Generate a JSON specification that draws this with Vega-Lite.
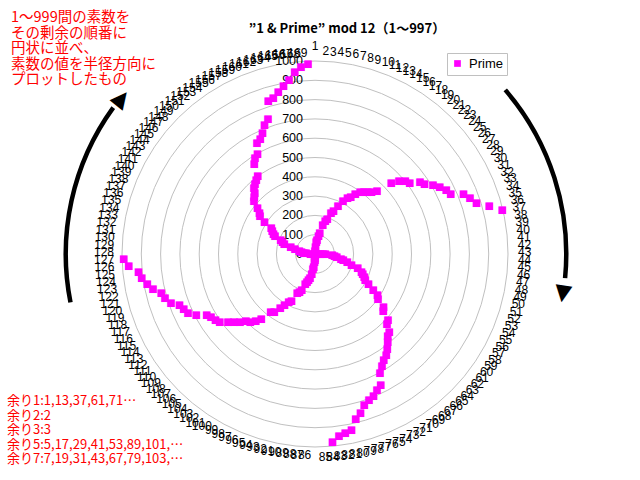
{
  "$schema": "https://vega.github.io/schema/vega-lite/v6.json",
  "width": 630,
  "height": 508,
  "autosize": "none",
  "padding": 0,
  "background": "white",
  "config": {"view": {"stroke": null}, "font": "Liberation Sans"},
  "title": {"text": "”1 & Prime” mod 12（1～997）", "frame": "group", "anchor": "middle", "orient": "top", "offset": -46, "dx": 32, "baseline": "alphabetic", "fontSize": 13, "fontWeight": "bold", "font": "Noto Sans CJK JP", "color": "#000000"},
  "datasets": {
    "primes": [
      {"i":1,"p":1},{"i":2,"p":13},{"i":3,"p":37},{"i":4,"p":61},{"i":5,"p":73},{"i":6,"p":97},{"i":7,"p":109},{"i":8,"p":157},{"i":9,"p":181},{"i":10,"p":193},
      {"i":11,"p":229},{"i":12,"p":241},{"i":13,"p":277},{"i":14,"p":313},{"i":15,"p":337},{"i":16,"p":349},{"i":17,"p":373},{"i":18,"p":397},{"i":19,"p":409},{"i":20,"p":421},
      {"i":21,"p":433},{"i":22,"p":457},{"i":23,"p":541},{"i":24,"p":577},{"i":25,"p":601},{"i":26,"p":613},{"i":27,"p":661},{"i":28,"p":673},{"i":29,"p":709},{"i":30,"p":733},
      {"i":31,"p":757},{"i":32,"p":769},{"i":33,"p":829},{"i":34,"p":853},{"i":35,"p":877},{"i":36,"p":937},{"i":37,"p":997},
      {"i":38,"p":2},{"i":39,"p":3},
      {"i":40,"p":5},{"i":41,"p":17},{"i":42,"p":29},{"i":43,"p":41},{"i":44,"p":53},{"i":45,"p":89},{"i":46,"p":101},{"i":47,"p":113},{"i":48,"p":137},{"i":49,"p":149},
      {"i":50,"p":173},{"i":51,"p":197},{"i":52,"p":233},{"i":53,"p":257},{"i":54,"p":269},{"i":55,"p":281},{"i":56,"p":293},{"i":57,"p":317},{"i":58,"p":353},{"i":59,"p":389},
      {"i":60,"p":401},{"i":61,"p":449},{"i":62,"p":461},{"i":63,"p":509},{"i":64,"p":521},{"i":65,"p":557},{"i":66,"p":569},{"i":67,"p":593},{"i":68,"p":617},{"i":69,"p":641},
      {"i":70,"p":653},{"i":71,"p":677},{"i":72,"p":701},{"i":73,"p":761},{"i":74,"p":773},{"i":75,"p":797},{"i":76,"p":809},{"i":77,"p":821},{"i":78,"p":857},{"i":79,"p":881},
      {"i":80,"p":929},{"i":81,"p":941},{"i":82,"p":953},{"i":83,"p":977},
      {"i":84,"p":7},{"i":85,"p":19},{"i":86,"p":31},{"i":87,"p":43},{"i":88,"p":67},{"i":89,"p":79},{"i":90,"p":103},{"i":91,"p":127},{"i":92,"p":139},{"i":93,"p":151},
      {"i":94,"p":163},{"i":95,"p":199},{"i":96,"p":211},{"i":97,"p":223},{"i":98,"p":271},{"i":99,"p":283},{"i":100,"p":307},{"i":101,"p":331},{"i":102,"p":367},{"i":103,"p":379},
      {"i":104,"p":439},{"i":105,"p":463},{"i":106,"p":487},{"i":107,"p":499},{"i":108,"p":523},{"i":109,"p":547},{"i":110,"p":571},{"i":111,"p":607},{"i":112,"p":619},{"i":113,"p":631},
      {"i":114,"p":643},{"i":115,"p":691},{"i":116,"p":727},{"i":117,"p":739},{"i":118,"p":751},{"i":119,"p":787},{"i":120,"p":811},{"i":121,"p":823},{"i":122,"p":859},{"i":123,"p":883},
      {"i":124,"p":907},{"i":125,"p":919},{"i":126,"p":967},{"i":127,"p":991},
      {"i":128,"p":11},{"i":129,"p":23},{"i":130,"p":47},{"i":131,"p":59},{"i":132,"p":71},{"i":133,"p":83},{"i":134,"p":107},{"i":135,"p":131},{"i":136,"p":167},{"i":137,"p":179},
      {"i":138,"p":191},{"i":139,"p":227},{"i":140,"p":239},{"i":141,"p":251},{"i":142,"p":263},{"i":143,"p":311},{"i":144,"p":347},{"i":145,"p":359},{"i":146,"p":383},{"i":147,"p":419},
      {"i":148,"p":431},{"i":149,"p":443},{"i":150,"p":467},{"i":151,"p":479},{"i":152,"p":491},{"i":153,"p":503},{"i":154,"p":563},{"i":155,"p":587},{"i":156,"p":599},{"i":157,"p":647},
      {"i":158,"p":659},{"i":159,"p":683},{"i":160,"p":719},{"i":161,"p":743},{"i":162,"p":827},{"i":163,"p":839},{"i":164,"p":863},{"i":165,"p":887},{"i":166,"p":911},{"i":167,"p":947},
      {"i":168,"p":971},{"i":169,"p":983}
    ],
    "ticks": [{"v":0},{"v":100},{"v":200},{"v":300},{"v":400},{"v":500},{"v":600},{"v":700},{"v":800},{"v":900},{"v":1000}]
  },
  "layer": [
    {
      "data": {"name": "ticks"},
      "transform": [{"filter": "datum.v > 0"}],
      "mark": {"type": "arc", "theta": 0, "theta2": 6.2832, "filled": false, "stroke": "#c0c0c0", "strokeWidth": 1},
      "encoding": {
        "radius": {"field": "v", "type": "quantitative", "stack": false, "scale": {"type": "linear", "domain": [0, 1000], "range": [0, 193], "zero": true}}
      }
    },
    {
      "data": {"name": "ticks"},
      "mark": {"type": "text", "theta": 0, "align": "right", "baseline": "middle", "dx": -12, "fontSize": 12.5, "color": "#000000"},
      "encoding": {
        "radius": {"field": "v", "type": "quantitative", "stack": false, "scale": {"type": "linear", "domain": [0, 1000], "range": [0, 193], "zero": true}},
        "text": {"field": "v", "type": "quantitative", "format": "d"}
      }
    },
    {
      "data": {"name": "primes"},
      "transform": [{"filter": "datum.i == 1"}],
      "mark": {"type": "text", "radius": 204, "align": "center", "baseline": "alphabetic", "fontSize": 12, "color": "#000000"},
      "encoding": {
        "theta": {"field": "i", "type": "quantitative", "stack": false, "scale": {"type": "linear", "domain": [1, 170], "range": [0, 6.283185307], "zero": false}},
        "text": {"field": "i", "type": "quantitative", "format": "d"}
      }
    },
    {
      "data": {"name": "primes"},
      "transform": [{"filter": "datum.i >= 2 && datum.i <= 85"}],
      "mark": {"type": "text", "radius": 203, "align": "left", "baseline": "middle", "fontSize": 12, "color": "#000000"},
      "encoding": {
        "theta": {"field": "i", "type": "quantitative", "stack": false, "scale": {"type": "linear", "domain": [1, 170], "range": [0, 6.283185307], "zero": false}},
        "text": {"field": "i", "type": "quantitative", "format": "d"}
      }
    },
    {
      "data": {"name": "primes"},
      "transform": [{"filter": "datum.i >= 86"}],
      "mark": {"type": "text", "radius": 201, "align": "right", "baseline": "middle", "fontSize": 12, "color": "#000000"},
      "encoding": {
        "theta": {"field": "i", "type": "quantitative", "stack": false, "scale": {"type": "linear", "domain": [1, 170], "range": [0, 6.283185307], "zero": false}},
        "text": {"field": "i", "type": "quantitative", "format": "d"}
      }
    },
    {
      "data": {"name": "primes"},
      "mark": {"type": "text", "text": "■", "font": "DejaVu Sans", "fontSize": 10, "align": "center", "baseline": "middle"},
      "encoding": {
        "theta": {"field": "i", "type": "quantitative", "stack": false, "scale": {"type": "linear", "domain": [1, 170], "range": [0, 6.283185307], "zero": false}},
        "radius": {"field": "p", "type": "quantitative", "stack": false, "scale": {"type": "linear", "domain": [0, 1000], "range": [0, 193], "zero": true}},
        "color": {"datum": "Prime", "type": "nominal", "scale": {"range": ["#FF00FF"]},
          "legend": {"orient": "none", "legendX": 447, "legendY": 53, "title": null, "symbolType": "square", "symbolSize": 45, "symbolStrokeWidth": 0, "labelFontSize": 13, "labelFont": "Liberation Sans", "labelColor": "#000000", "labelOffset": 5, "strokeColor": "#c0c0c0", "padding": 4}}
      }
    },
    {
      "data": {"values": [{}]},
      "mark": {"type": "text", "text": ["1～999間の素数を", "その剰余の順番に", "円状に並べ、", "素数の値を半径方向に", "プロットしたもの"], "align": "left", "baseline": "alphabetic", "lineHeight": 15.5, "fontSize": 14.5, "font": "Noto Sans CJK JP", "color": "#FF0000"},
      "encoding": {"x": {"value": 11}, "y": {"value": 22}}
    },
    {
      "data": {"values": [{}]},
      "mark": {"type": "text", "text": ["余り1:1,13,37,61,71…", "余り2:2", "余り3:3", "余り5:5,17,29,41,53,89,101,…", "余り7:7,19,31,43,67,79,103,…"], "align": "left", "baseline": "alphabetic", "lineHeight": 14.5, "fontSize": 13, "font": "Noto Sans CJK JP", "color": "#FF0000"},
      "encoding": {"x": {"value": 7}, "y": {"value": 405}}
    },
    {
      "data": {"values": [{}]},
      "mark": {"type": "arc", "theta": 4.517, "theta2": 5.34, "radius": 251.5, "radius2": 247, "color": "#000000"},
      "encoding": {}
    },
    {
      "data": {"values": [{}]},
      "mark": {"type": "text", "text": "▲", "font": "DejaVu Sans", "fontSize": 22, "theta": 5.393, "radius": 248, "angle": 39, "align": "center", "baseline": "middle", "color": "#000000"},
      "encoding": {}
    },
    {
      "data": {"values": [{}]},
      "mark": {"type": "arc", "theta": 0.859, "theta2": 1.667, "radius": 253.5, "radius2": 249, "color": "#000000"},
      "encoding": {}
    },
    {
      "data": {"values": [{}]},
      "mark": {"type": "text", "text": "▲", "font": "DejaVu Sans", "fontSize": 22, "theta": 1.735, "radius": 251, "angle": 189, "align": "center", "baseline": "middle", "color": "#000000"},
      "encoding": {}
    }
  ]
}
